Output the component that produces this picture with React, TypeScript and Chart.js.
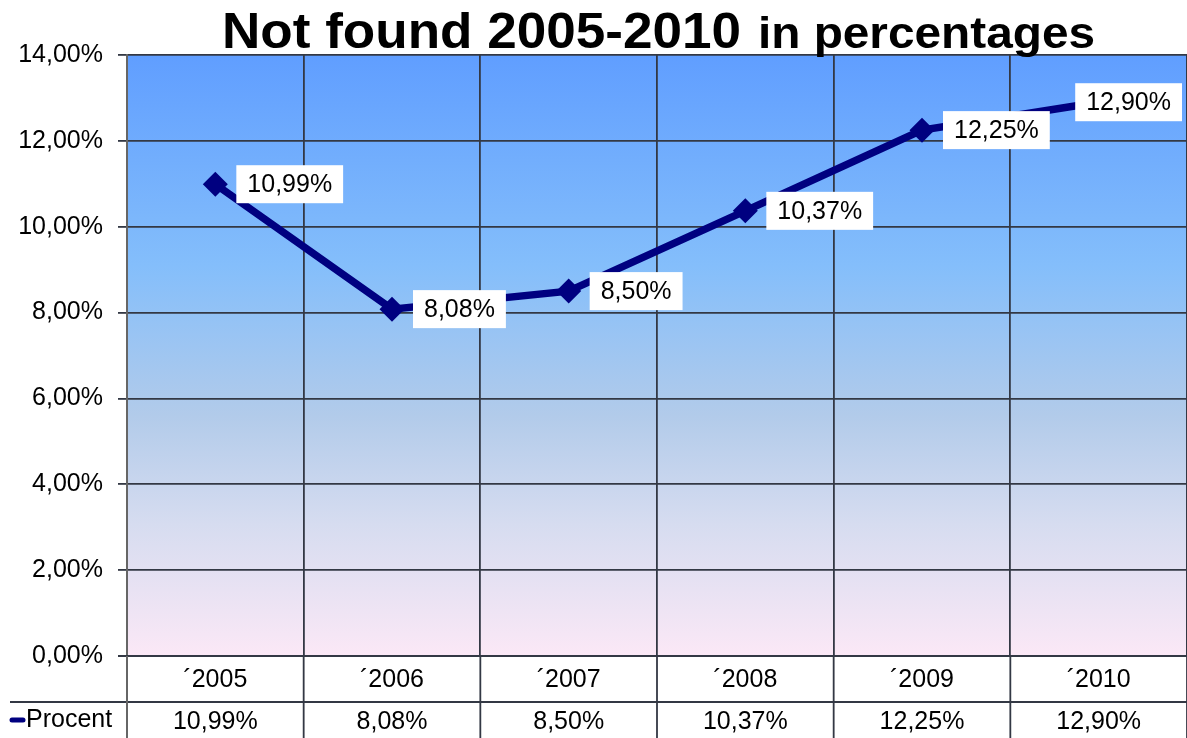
import React, { useEffect, useRef } from "react";
import { Chart, registerables } from "chart.js";

Chart.register(...registerables);

const categories = ["´2005", "´2006", "´2007", "´2008", "´2009", "´2010"];
const procentValues = [10.99, 8.08, 8.5, 10.37, 12.25, 12.9];
const seriesName = "Procent";
const titleMain = "Not found 2005-2010";
const titleSub = "in percentages";

const FONT = '"Liberation Sans", Arial, sans-serif';
const FS = 25;
const fmt = (v: number) => v.toFixed(2).replace(".", ",") + "%";

const chartPlugin = {
  id: "customDraw",
  beforeDraw(chart: any) {
    const { ctx, chartArea: a } = chart;
    ctx.save();
    ctx.fillStyle = "#ffffff";
    ctx.fillRect(0, 0, chart.width, chart.height);
    const g = ctx.createLinearGradient(0, a.top, 0, a.bottom);
    g.addColorStop(0, "#609EFF");
    g.addColorStop(0.35, "#84BEFB");
    g.addColorStop(0.6, "#B2CBEA");
    g.addColorStop(0.78, "#D6DCF0");
    g.addColorStop(1, "#FBE8F6");
    ctx.fillStyle = g;
    ctx.fillRect(a.left, a.top, a.right - a.left, a.bottom - a.top);
    ctx.restore();
  },
  afterDatasetsDraw(chart: any) {
    const { ctx, chartArea: a } = chart;
    const meta = chart.getDatasetMeta(0);
    ctx.save();
    ctx.font = `${FS}px ${FONT}`;
    ctx.textBaseline = "middle";
    meta.data.forEach((pt: any, i: number) => {
      const txt = fmt(procentValues[i]);
      const tw = ctx.measureText(txt).width;
      const w = tw + 22;
      const h = 38;
      let x = pt.x + 21;
      if (x + w > a.right - 5) x = a.right - 5 - w;
      const y = pt.y - h / 2;
      ctx.fillStyle = "#ffffff";
      ctx.fillRect(x, y, w, h);
      ctx.fillStyle = "#000000";
      ctx.textAlign = "left";
      ctx.fillText(txt, x + 11, pt.y + 1);
    });
    ctx.restore();
  },
  afterDraw(chart: any) {
    const { ctx, chartArea: a } = chart;
    const xs = chart.scales.x;
    ctx.save();
    ctx.fillStyle = "#000000";
    ctx.textBaseline = "alphabetic";
    ctx.textAlign = "left";
    ctx.font = `bold 50px ${FONT}`;
    const w1 = ctx.measureText(titleMain).width;
    ctx.font = `bold 45px ${FONT}`;
    const w2 = ctx.measureText(titleSub).width;
    const gap = 16;
    const sx = (1095 - 222) / (w1 + gap + w2);
    ctx.translate(222, 48);
    ctx.scale(sx, 1);
    ctx.font = `bold 50px ${FONT}`;
    ctx.fillText(titleMain, 0, 0);
    ctx.font = `bold 45px ${FONT}`;
    ctx.fillText(titleSub, w1 + gap, 0);
    ctx.restore();

    ctx.save();
    const n = categories.length;
    const step = (a.right - a.left) / n;
    const rowMid = 702;
    const bottom = chart.height;
    ctx.strokeStyle = "#333844";
    ctx.lineWidth = 1.8;
    ctx.beginPath();
    ctx.moveTo(10, rowMid);
    ctx.lineTo(a.right, rowMid);
    ctx.moveTo(a.left - 9, a.bottom);
    ctx.lineTo(a.right, a.bottom);
    for (let i = 1; i <= n; i++) {
      const bx = a.left + i * step;
      ctx.moveTo(bx, a.bottom);
      ctx.lineTo(bx, bottom);
    }
    ctx.stroke();
    ctx.strokeStyle = "#666666";
    ctx.lineWidth = 2;
    ctx.beginPath();
    ctx.moveTo(a.left, a.bottom);
    ctx.lineTo(a.left, bottom);
    ctx.stroke();

    ctx.fillStyle = "#000000";
    ctx.font = `${FS}px ${FONT}`;
    ctx.textAlign = "center";
    ctx.textBaseline = "middle";
    categories.forEach((c, i) => {
      const cx = xs.getPixelForValue(i);
      ctx.fillText(c, cx, 680);
      ctx.fillText(fmt(procentValues[i]), cx, 722);
    });
    ctx.strokeStyle = "#000080";
    ctx.lineWidth = 5;
    ctx.lineCap = "round";
    ctx.beginPath();
    ctx.moveTo(12, 720);
    ctx.lineTo(23, 720);
    ctx.stroke();
    ctx.textAlign = "left";
    ctx.fillText(seriesName, 26, 720);
    ctx.restore();
  },
};

export default function App() {
  const ref = useRef<HTMLCanvasElement | null>(null);
  useEffect(() => {
    document.body.style.margin = "0";
    if (!ref.current) return;
    const chart = new Chart(ref.current, {
      type: "line",
      data: {
        labels: categories,
        datasets: [
          {
            label: seriesName,
            data: procentValues,
            borderColor: "#000080",
            backgroundColor: "#000080",
            borderWidth: 7.5,
            pointStyle: "rectRot",
            pointRadius: 12.5,
            pointHoverRadius: 12.5,
            pointBackgroundColor: "#000080",
            pointBorderColor: "#000080",
            pointBorderWidth: 0,
            tension: 0,
          },
        ],
      },
      options: {
        animation: false,
        responsive: false,
        devicePixelRatio: 1,
        layout: { autoPadding: false, padding: { top: 55, left: 0, right: 0, bottom: 0 } },
        plugins: {
          legend: { display: false },
          title: { display: false },
          tooltip: { enabled: false },
        },
        scales: {
          x: {
            type: "category",
            offset: true,
            grid: {
              offset: true,
              color: "#333844",
              lineWidth: 1.8,
              drawTicks: false,
            },
            border: { display: false },
            ticks: { display: false },
            afterFit: (s: any) => {
              s.height = 82;
              s.paddingLeft = 0;
              s.paddingRight = 0;
            },
          },
          y: {
            min: 0,
            max: 14,
            ticks: {
              stepSize: 2,
              callback: (v: any) => fmt(Number(v)),
              font: { family: FONT, size: FS },
              color: "#000000",
              padding: 15,
            },
            grid: {
              color: "#333844",
              lineWidth: 1.8,
              tickLength: 9,
            },
            border: { color: "#666666", width: 2 },
            afterFit: (s: any) => {
              s.width = 127;
              s.paddingTop = 0;
              s.paddingBottom = 0;
            },
          },
        },
      },
      plugins: [chartPlugin],
    } as any);
    return () => chart.destroy();
  }, []);
  return (
    <div style={{ position: "absolute", left: 0, top: 0, width: 1187, height: 738 }}>
      <canvas ref={ref} width={1187} height={738} style={{ width: 1187, height: 738 }} />
    </div>
  );
}
